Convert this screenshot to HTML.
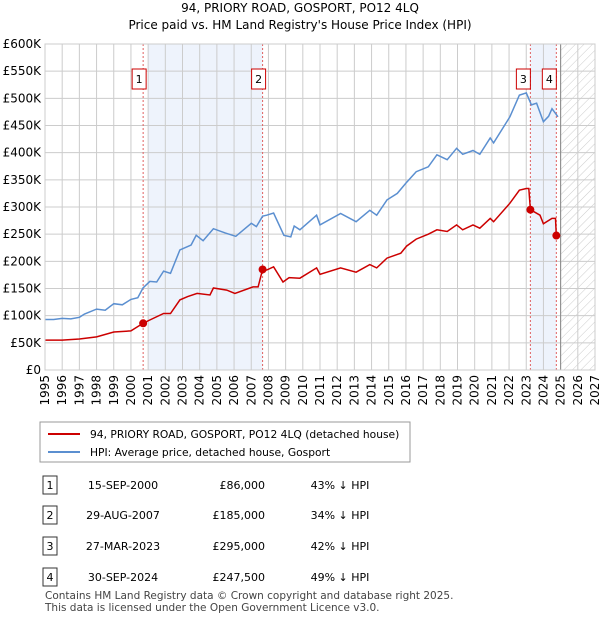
<!DOCTYPE html>
<html><head><meta charset="utf-8"><style>
body{margin:0;background:#fff;font-family:"Liberation Sans","DejaVu Sans",sans-serif;}
svg text{font-family:"DejaVu Sans","Liberation Sans",sans-serif;}
</style></head><body>
<svg id="c" width="600" height="620" xmlns="http://www.w3.org/2000/svg">
<defs><pattern id="hatch" width="6" height="6" patternUnits="userSpaceOnUse" patternTransform="rotate(45)"><line x1="0" y1="0" x2="0" y2="6" stroke="#ccc" stroke-width="1"/></pattern></defs>
<text x="300" y="12" text-anchor="middle" font-size="12">94, PRIORY ROAD, GOSPORT, PO12 4LQ</text>
<text x="300" y="29" text-anchor="middle" font-size="12">Price paid vs. HM Land Registry's House Price Index (HPI)</text>
<g id="plot"></g>
<g>
<rect x="40" y="422" width="370" height="40" fill="#fff" stroke="#999"/>
<line x1="48" y1="434" x2="80" y2="434" stroke="#cc0000" stroke-width="2"/>
<text x="90" y="438" font-size="10.7">94, PRIORY ROAD, GOSPORT, PO12 4LQ (detached house)</text>
<line x1="48" y1="452" x2="80" y2="452" stroke="#5b8fd0" stroke-width="2"/>
<text x="90" y="456" font-size="10.7">HPI: Average price, detached house, Gosport</text>
</g>
<g id="table" font-size="11"></g>
<text x="45" y="599" font-size="10.5" fill="#444">Contains HM Land Registry data © Crown copyright and database right 2025.</text>
<text x="45" y="611" font-size="10.5" fill="#444">This data is licensed under the Open Government Licence v3.0.</text>
</svg>
<script>
const hpiYears=[1995,1995.5,1996,1996.5,1997,1997.3,1998,1998.5,1999,1999.5,2000,2000.4,2000.7,2001.1,2001.5,2001.9,2002.3,2002.85,2003.5,2003.8,2004.2,2004.8,2005.5,2006.1,2007.0,2007.3,2007.66,2007.9,2008.3,2008.9,2009.3,2009.5,2009.83,2010.8,2011.0,2012.2,2013.1,2013.9,2014.3,2014.9,2015.5,2016.0,2016.6,2017.3,2017.8,2018.4,2018.95,2019.3,2019.9,2020.3,2020.9,2021.1,2022.05,2022.6,2023.0,2023.3,2023.6,2024.0,2024.3,2024.5,2024.85];
const hpiValues=[93,93,95,94,97,103,112,110,122,120,130,133,151,163,162,182,178,221,230,248,238,260,252,246,270,264,283,285,289,248,245,265,258,285,267,288,273,294,285,313,325,344,365,374,396,387,408,397,404,397,427,418,466,506,510,488,491,457,467,481,466];
const ppYears=[1995,1996,1997,1998,1999,2000,2000.71,2001.1,2001.9,2002.3,2002.85,2003.3,2003.85,2004.6,2004.8,2005.57,2006.05,2007.1,2007.4,2007.66,2007.9,2008.3,2008.85,2009.2,2009.83,2010.8,2011.0,2012.2,2013.1,2013.9,2014.3,2014.9,2015.7,2016.04,2016.6,2017.3,2017.8,2018.4,2018.95,2019.3,2019.9,2020.3,2020.9,2021.1,2022.05,2022.6,2023.0,2023.15,2023.24,2023.8,2024.0,2024.5,2024.7,2024.75];
const ppValues=[55,55,57,61,70,72,86,92,104,104,129,135,141,138,151,147,141,153,153,185,184,190,162,170,169,188,176,188,180,194,188,206,215,228,241,250,258,255,267,258,267,261,279,273,307,331,334,334,295,285,269,279,279,247.5];
const saleYears=[2000.71,2007.66,2023.24,2024.75];
const saleValues=[86,185,295,247.5];
const saleLabels=["1","2","3","4"];
const saleDates=["15-SEP-2000","29-AUG-2007","27-MAR-2023","30-SEP-2024"];
const salePrices=["£86,000","£185,000","£295,000","£247,500"];
const salePct=["43% ↓ HPI","34% ↓ HPI","42% ↓ HPI","49% ↓ HPI"];
const yTicks=[0,50,100,150,200,250,300,350,400,450,500,550,600];
const xTicks=[1995,1996,1997,1998,1999,2000,2001,2002,2003,2004,2005,2006,2007,2008,2009,2010,2011,2012,2013,2014,2015,2016,2017,2018,2019,2020,2021,2022,2023,2024,2025,2026,2027];

const L=45,R=595,T=44,B=370;
const X=y=>L+(y-1995)/32*(R-L);
const Y=v=>B-v/600*(B-T);
const NS="http://www.w3.org/2000/svg";
const g=document.getElementById('plot');
function mk(t,a,p){const e=document.createElementNS(NS,t);for(const k in a)e.setAttribute(k,a[k]);(p||g).appendChild(e);return e;}
let s1=mk('rect',{x:X(2001),y:T,width:X(saleYears[1])-X(2001),height:B-T,fill:'#eef3fc'});


let s2=mk('rect',{x:X(saleYears[2]),y:T,width:X(saleYears[3])-X(saleYears[2]),height:B-T,fill:'#eef3fc'});


let h=mk('rect',{x:X(2025),y:T,width:R-X(2025),height:B-T,fill:'url(#hatch)'});


yTicks.forEach(v=>{
 const l=mk('line',{x1:L,x2:R,y1:Y(v),y2:Y(v),stroke:'#ccc'});
 
 
 const t=mk('text',{x:L-4,y:Y(v)+4,'text-anchor':'end','font-size':12});
 t.textContent=v===0?'£0':'£'+v+'K';
 
 
});
xTicks.forEach(y=>{
 const l=mk('line',{x1:X(y),x2:X(y),y1:T,y2:B,stroke:'#ccc'});
 
 
 const t=mk('text',{x:0,y:0,'text-anchor':'end','font-size':12,transform:`translate(${X(y)+4},${B+5}) rotate(-90)`});
 t.textContent=y;
 
 
});
let vl=mk('line',{x1:X(2025),x2:X(2025),y1:T,y2:B,stroke:'#888'});


saleYears.forEach((y,i)=>{
 const l=mk('line',{x1:X(y),x2:X(y),y1:T,y2:B,stroke:'#e06060','stroke-dasharray':'2,2'});
 
 
});
const pts=(xs,vs)=>xs.map((x,i)=>X(x).toFixed(1)+','+Y(vs[i]).toFixed(1)).join(' ');
let hp=mk('polyline',{points:pts(hpiYears,hpiValues),fill:'none',stroke:'#5b8fd0','stroke-width':1.5});


let pp=mk('polyline',{points:pts(ppYears,ppValues),fill:'none',stroke:'#cc0000','stroke-width':1.5});


saleYears.forEach((y,i)=>{
 const c=mk('circle',{cx:X(y),cy:Y(saleValues[i]),r:4,fill:'#cc0000'});
 
 
 const bx=[X(y)-4,X(y)-4,X(y)-7,X(y)-7][i];
 const r=mk('rect',{x:bx-7,y:69,width:14,height:20,fill:'#fff',stroke:'#cc0000'});
 
 
 const t=mk('text',{x:bx,y:83,'text-anchor':'middle','font-size':11});
 t.textContent=saleLabels[i];
 
 
});
let fr=mk('rect',{x:L,y:T,width:R-L,height:B-T,fill:'none',stroke:'#ccc'});


const tb=document.getElementById('table');
const rowY=[485,515,546,577];
saleLabels.forEach((lab,i)=>{
 const yy=rowY[i];
 const r=mk('rect',{x:43,y:yy-9,width:14,height:18,fill:'#fff',stroke:'#333'},tb);
 
 
 const vals=[[50,lab,'middle'],[123,saleDates[i],'middle'],[265,salePrices[i],'end'],[340,salePct[i],'middle']];
 vals.forEach(v=>{
  const t=mk('text',{x:v[0],y:yy+4,'text-anchor':v[2]},tb);
  t.textContent=v[1];
  
  
 });
});
</script>
</body></html>
